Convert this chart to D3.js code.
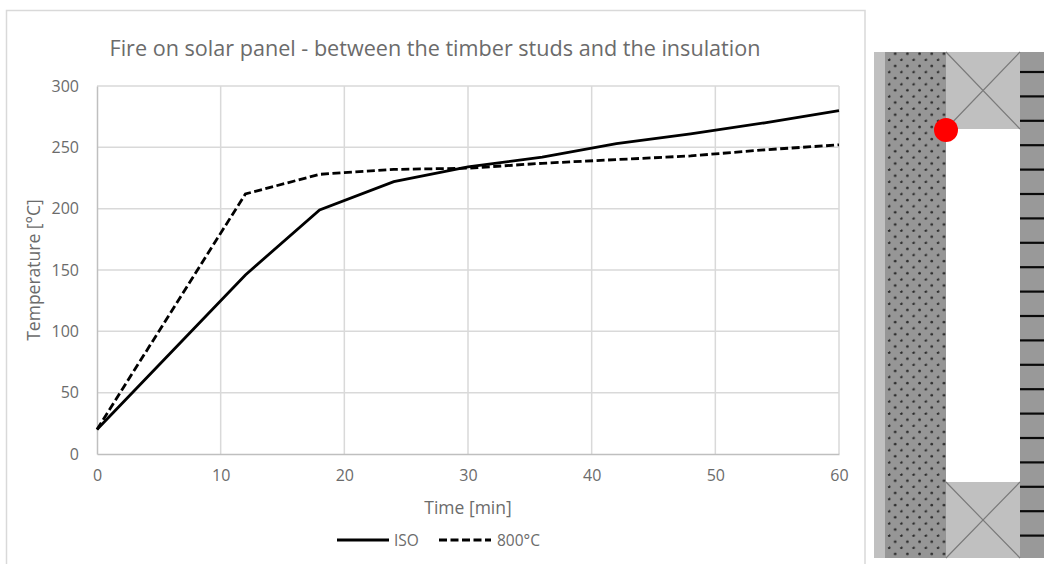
<!DOCTYPE html>
<html>
<head>
<meta charset="utf-8">
<script src="https://cdn.jsdelivr.net/npm/d3@7/dist/d3.min.js"></script>
<style>
  html, body { margin: 0; padding: 0; background: #fff; overflow: hidden; }
  text { font-family: "Open Sans", sans-serif; fill: #6b6b6b; }
</style>
</head>
<body>
<div id="chart"></div>
<script>
// values
const isoTime = [0, 6, 12, 18, 24, 30, 36, 42, 48, 54, 60];
const isoTemp = [20, 83, 146, 199, 222, 234, 242, 253, 261, 270, 280];
const fireTime = [0, 12, 18, 24, 30, 36, 42, 48, 54, 60];
const fireTemp = [20, 212, 228, 232, 233, 237, 240, 243, 248, 252];
const xTicks = [0, 10, 20, 30, 40, 50, 60];
const yTicks = [0, 50, 100, 150, 200, 250, 300];

const svg = d3.select("#chart").append("svg")
    .attr("width", 1044)
    .attr("height", 564)
    .style("display", "block");

// chart frame, open at the bottom
svg.append("path")
    .attr("d", "M6.5,564V10.5H865V564")
    .attr("fill", "none")
    .attr("stroke", "#d9d9d9")
    .attr("stroke-width", 1.5);

var x = d3.scaleLinear().domain([0, 60]).range([97, 839]);
var y = d3.scaleLinear().domain([0, 300]).range([454, 86]);

// gridlines
svg.append("g").selectAll("line").data(xTicks.slice(1)).join("line")
    .attr("x1", d => x(d)).attr("x2", d => x(d))
    .attr("y1", y(0)).attr("y2", y(300))
    .attr("stroke", "#d9d9d9").attr("stroke-width", 1.5);
svg.append("g").selectAll("line").data(yTicks.slice(1)).join("line")
    .attr("x1", x(0)).attr("x2", x(60))
    .attr("y1", d => y(d)).attr("y2", d => y(d))
    .attr("stroke", "#d9d9d9").attr("stroke-width", 1.5);

// axes
const xAxis = svg.append("g")
    .attr("transform", `translate(0,${y(0)})`)
    .call(d3.axisBottom(x).tickValues(xTicks).tickSize(0).tickPadding(16));
const yAxis = svg.append("g")
    .attr("transform", `translate(${x(0)},0)`)
    .call(d3.axisLeft(y).tickValues(yTicks).tickSize(0).tickPadding(18));
[xAxis, yAxis].forEach(a => {
    a.attr("font-family", null).attr("font-size", null);
    a.selectAll("text").style("font-size", "16px");
    a.select(".domain").attr("stroke", "#bfbfbf").attr("stroke-width", 1.5);
});

// series
var line = d3.line().x(d => x(d[0])).y(d => y(d[1]));
svg.append("path")
    .datum(d3.zip(isoTime, isoTemp))
    .attr("fill", "none").attr("stroke", "#000").attr("stroke-width", 2.8)
    .attr("d", line);
svg.append("path")
    .datum(d3.zip(fireTime, fireTemp))
    .attr("fill", "none").attr("stroke", "#000").attr("stroke-width", 2.8)
    .attr("stroke-dasharray", "8,3.5")
    .attr("d", line);

// titles
svg.append("text").attr("x", 435).attr("y", 56).attr("text-anchor", "middle")
    .style("font-size", "21.6px").text("Fire on solar panel - between the timber studs and the insulation");
svg.append("text").attr("x", 468).attr("y", 514).attr("text-anchor", "middle")
    .style("font-size", "17.5px").text("Time [min]");
svg.append("text").attr("transform", "translate(40,270) rotate(-90)").attr("text-anchor", "middle")
    .style("font-size", "17.5px").text("Temperature [°C]");

// legend
const legend = svg.append("g");
legend.append("line").attr("x1", 337).attr("x2", 389).attr("y1", 540).attr("y2", 540)
    .attr("stroke", "#000").attr("stroke-width", 2.8);
legend.append("text").attr("x", 394).attr("y", 546).style("font-size", "15.5px").text("ISO");
legend.append("line").attr("x1", 439).attr("x2", 491).attr("y1", 540).attr("y2", 540)
    .attr("stroke", "#000").attr("stroke-width", 2.8).attr("stroke-dasharray", "8,3.5");
legend.append("text").attr("x", 497).attr("y", 546).style("font-size", "15.5px").text("800°C");

// wall section on the right
const wall = svg.append("g");
const wallTop = 52, wallBottom = 558;
const studLeft = 946, studRight = 1020, upperStudEnd = 129, lowerStudStart = 482;

const defs = svg.append("defs");
const dots = defs.append("pattern").attr("id", "dots").attr("patternUnits", "userSpaceOnUse")
    .attr("x", 889).attr("y", 47).attr("width", 12.2).attr("height", 12.2);
dots.append("rect").attr("width", 12.2).attr("height", 12.2).attr("fill", "#969696");
dots.append("circle").attr("cx", 0.2).attr("cy", 0.6).attr("r", 1.3).attr("fill", "#2b2b2b");
dots.append("circle").attr("cx", 12.4).attr("cy", 0.6).attr("r", 1.3).attr("fill", "#2b2b2b");
dots.append("circle").attr("cx", 6.2).attr("cy", 6.7).attr("r", 1.3).attr("fill", "#2b2b2b");
dots.append("circle").attr("cx", 0.2).attr("cy", 12.8).attr("r", 1.3).attr("fill", "#2b2b2b");

wall.append("rect").attr("x", 874).attr("y", wallTop).attr("width", 11).attr("height", wallBottom - wallTop).attr("fill", "#c0c0c0");
wall.append("rect").attr("x", 885).attr("y", wallTop).attr("width", studLeft - 885).attr("height", wallBottom - wallTop).attr("fill", "url(#dots)");
wall.append("rect").attr("x", studRight).attr("y", wallTop).attr("width", 1044 - studRight).attr("height", wallBottom - wallTop).attr("fill", "#999");

[[wallTop, upperStudEnd], [lowerStudStart, wallBottom]].forEach(s => {
    wall.append("rect").attr("x", studLeft).attr("y", s[0]).attr("width", studRight - studLeft).attr("height", s[1] - s[0]).attr("fill", "#c0c0c0");
    wall.append("path").attr("d", `M${studLeft},${s[0]}L${studRight},${s[1]}M${studRight},${s[0]}L${studLeft},${s[1]}`)
        .attr("stroke", "#7a7a7a").attr("stroke-width", 1.2).attr("fill", "none");
});

// cladding joints
wall.selectAll("line.joint").data(d3.range(20)).join("line").attr("class", "joint")
    .attr("x1", studRight).attr("x2", 1044)
    .attr("y1", d => 72 + d * 24.4).attr("y2", d => 72 + d * 24.4)
    .attr("stroke", "#0a0a0a").attr("stroke-width", 2.2);

// measuring point
wall.append("circle").attr("cx", 946).attr("cy", 130).attr("r", 12).attr("fill", "#ff0000");
</script>
</body>
</html>
